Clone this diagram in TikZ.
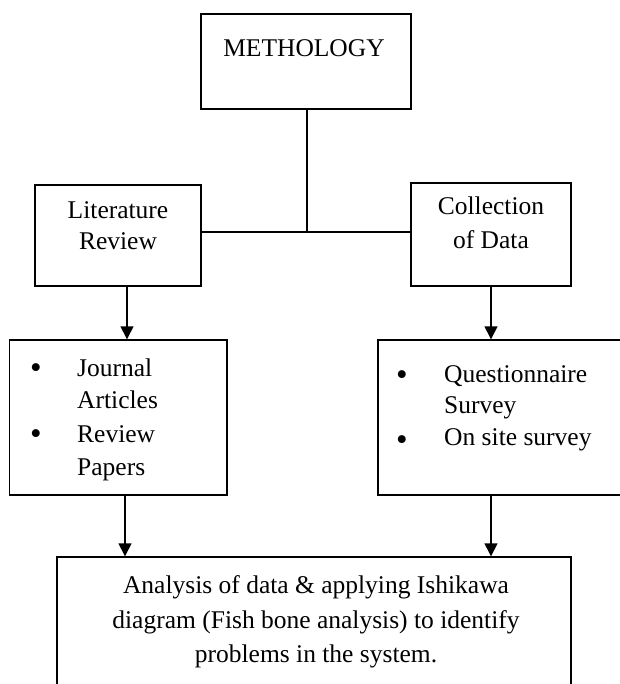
\documentclass[tikz,border=0pt]{standalone}
\usepackage{fontspec}
\setmainfont{Liberation Serif}
\usetikzlibrary{arrows.meta}
\begin{document}
\begin{tikzpicture}[x=1pt,y=-1pt,
  box/.style={draw=black, line width=1.4pt, inner sep=0pt},
  txt/.style={anchor=base, inner sep=0pt, font=\fontsize{25.5}{34}\selectfont},
  ltxt/.style={anchor=base west, inner sep=0pt, font=\fontsize{25.5}{34}\selectfont},
  bul/.style={anchor=base, inner sep=0pt, font=\fontsize{33}{34}\selectfont},
  conn/.style={line width=1.4pt},
  arr/.style={line width=1.4pt, -{Triangle[width=13pt,length=13pt]}}]
\useasboundingbox (0,0) rectangle (619,684);
% boxes
\node[box, minimum width=210pt, minimum height=95pt] (meth) at (306,61.5) {};
\node[box, minimum width=166pt, minimum height=101pt] (lit) at (118,235.5) {};
\node[box, minimum width=160pt, minimum height=103pt] (col) at (491,234.5) {};
\node[box, minimum width=217.5pt, minimum height=155pt] (lbul) at (118.25,417.5) {};
\node[box, minimum width=260pt, minimum height=155pt] (rbul) at (508,417.5) {};
\node[box, minimum width=514pt, minimum height=150pt] (res) at (314,632) {};
% texts
\node[txt] (tmeth) at (304,57) {METHOLOGY};
\node[txt] (tlit1) at (118,219) {Literature};
\node[txt] (tlit2) at (118,250) {Review};
\node[txt] (tcol1) at (491,215) {Collection};
\node[txt] (tcol2) at (491,248) {of Data};
\node[bul] (b1) at (36,378) {•};
\node[ltxt] (j1) at (77,376) {Journal};
\node[ltxt] (j2) at (77,408) {Articles};
\node[bul] (b2) at (36,444) {•};
\node[ltxt] (j3) at (77,442) {Review};
\node[ltxt] (j4) at (77,475) {Papers};
\node[bul] (b3) at (402,385) {•};
\node[ltxt] (q1) at (444,382) {Questionnaire};
\node[ltxt] (q2) at (444,413) {Survey};
\node[bul] (b4) at (402,450) {•};
\node[ltxt] (q3) at (444,445) {On site survey};
\node[txt] (r1) at (316,593) {Analysis of data \& applying Ishikawa};
\node[txt] (r2) at (316,628) {diagram (Fish bone analysis) to identify};
\node[txt] (r3) at (316,662) {problems in the system.};
% connector coordinates
\coordinate (jn) at (307,232);
\coordinate (ax1) at (127,0);
\coordinate (ax2) at (491,0);
\coordinate (ax3) at (125,0);
% connectors
\draw[conn] (meth.south -| jn) -- (jn);
\draw[conn] (lit.east |- jn) -- (col.west |- jn);
\draw[arr] (lit.south -| ax1) -- (lbul.north -| ax1);
\draw[arr] (col.south -| ax2) -- (rbul.north -| ax2);
\draw[arr] (lbul.south -| ax3) -- (res.north -| ax3);
\draw[arr] (rbul.south -| ax2) -- (res.north -| ax2);
\end{tikzpicture}
\end{document}
